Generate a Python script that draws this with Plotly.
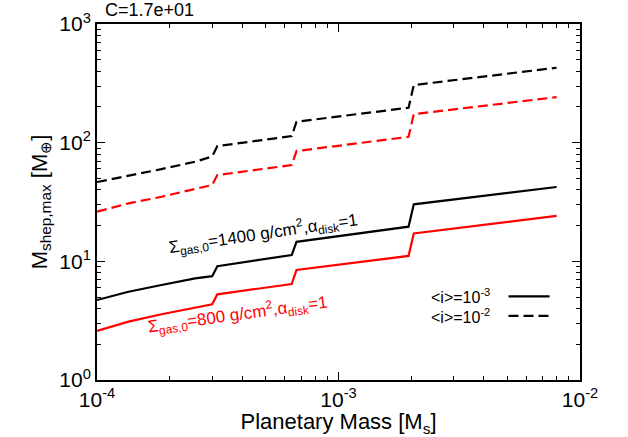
import plotly.graph_objects as go

# ---- data ----
planet_mass = [1e-4, 1.35e-4, 1.85e-4, 2.55e-4, 3.0e-4, 3.15e-4, 6.4e-4, 6.7e-4, 1.95e-3, 2.05e-3, 8.0e-3]
m_1400_i3 = [4.72, 5.54, 6.32, 7.19, 7.5, 9.1, 11.3, 14.6, 19.6, 30.2, 42.3]
m_800_i3 = [2.59, 3.10, 3.58, 4.07, 4.34, 5.27, 6.44, 8.45, 11.1, 17.2, 24.2]
m_1400_i2 = [46.6, 52.3, 59.9, 69.1, 76.5, 93.6, 113.6, 150.0, 197.0, 306.0, 428.0]
m_800_i2 = [26.2, 30.8, 35.0, 40.4, 44.0, 53.3, 64.8, 85.0, 112.0, 174.0, 242.0]

x_tickvals = [1e-4, 1e-3, 1e-2]
x_ticktext = ["10<sup>-4</sup>", "10<sup>-3</sup>", "10<sup>-2</sup>"]
y_tickvals = [1, 10, 100, 1000]
y_ticktext = ["10<sup>0</sup>", "10<sup>1</sup>", "10<sup>2</sup>", "10<sup>3</sup>"]

x_minor = [m * 10 ** e for e in (-4, -3) for m in range(2, 10)]
y_minor = [m * 10 ** e for e in (0, 1, 2) for m in range(2, 10)]

FONT = "Liberation Sans, Arial, sans-serif"
DASH = "10px,5px"

fig = go.Figure()
fig.add_trace(go.Scatter(x=planet_mass, y=m_1400_i2, mode="lines",
                         line=dict(color="black", width=2.2, dash=DASH), showlegend=False))
fig.add_trace(go.Scatter(x=planet_mass, y=m_800_i2, mode="lines",
                         line=dict(color="#ff0000", width=2.2, dash=DASH), showlegend=False))
fig.add_trace(go.Scatter(x=planet_mass, y=m_1400_i3, mode="lines",
                         line=dict(color="black", width=2.2), showlegend=False))
fig.add_trace(go.Scatter(x=planet_mass, y=m_800_i3, mode="lines",
                         line=dict(color="#ff0000", width=2.2), showlegend=False))

axis_common = dict(
    type="log", showgrid=False, zeroline=False, showline=True, linecolor="black",
    linewidth=2, mirror="allticks", ticks="inside", ticklen=8, tickwidth=1.2,
    tickcolor="black", tickfont=dict(family=FONT, size=21, color="black"),
    automargin=False,
)

fig.update_xaxes(
    **axis_common, range=[-4, -2], tickvals=x_tickvals, ticktext=x_ticktext,
    minor=dict(tickvals=x_minor, ticks="inside", ticklen=4, tickwidth=1, tickcolor="black"),
    title=dict(text="Planetary Mass [M<sub>s</sub>]", font=dict(family=FONT, size=22, color="black"),
               standoff=4),
)
fig.update_yaxes(
    **axis_common, range=[0, 3], tickvals=y_tickvals, ticktext=y_ticktext,
    minor=dict(tickvals=y_minor, ticks="inside", ticklen=4, tickwidth=1, tickcolor="black"),
    title=dict(text="M<sub>shep,max</sub> [M<sub>⊕</sub>]", font=dict(family=FONT, size=22, color="black"),
               standoff=6),
)

fig.add_annotation(xref="paper", yref="paper", x=0.0, y=1.0, xanchor="left", yanchor="bottom",
                   xshift=6, yshift=2, text="C=1.7e+01", showarrow=False,
                   font=dict(family=FONT, size=18, color="black"))
fig.add_annotation(x=-3.31, y=1.232, xref="x", yref="y",
                   text="Σ<sub>gas,0</sub>=1400 g/cm<sup>2</sup>,α<sub>disk</sub>=1",
                   showarrow=False, textangle=-8.5, font=dict(family=FONT, size=17, color="black"))
fig.add_annotation(x=-3.42, y=0.555, xref="x", yref="y",
                   text="Σ<sub>gas,0</sub>=800 g/cm<sup>2</sup>,α<sub>disk</sub>=1",
                   showarrow=False, textangle=-8, font=dict(family=FONT, size=17, color="#ff0000"))

# manual legend (text left, line sample right)
legend_rows = [("&lt;i&gt;=10<sup>-3</sup>", "solid", 0.235), ("&lt;i&gt;=10<sup>-2</sup>", DASH, 0.180)]
for label, dash, yy in legend_rows:
    fig.add_annotation(xref="paper", yref="paper", x=0.817, y=yy, xanchor="right", yanchor="middle",
                       text=label, showarrow=False,
                       font=dict(family=FONT, size=16, color="black"))
    fig.add_shape(type="line", xref="paper", yref="paper", x0=0.852, x1=0.937, y0=yy, y1=yy,
                  line=dict(color="black", width=2.2, dash=dash))

fig.update_layout(
    width=628, height=437, margin=dict(l=97, r=48, t=24, b=57),
    paper_bgcolor="white", plot_bgcolor="white", font=dict(family=FONT, color="black"),
)
fig.write_html("out.html")
